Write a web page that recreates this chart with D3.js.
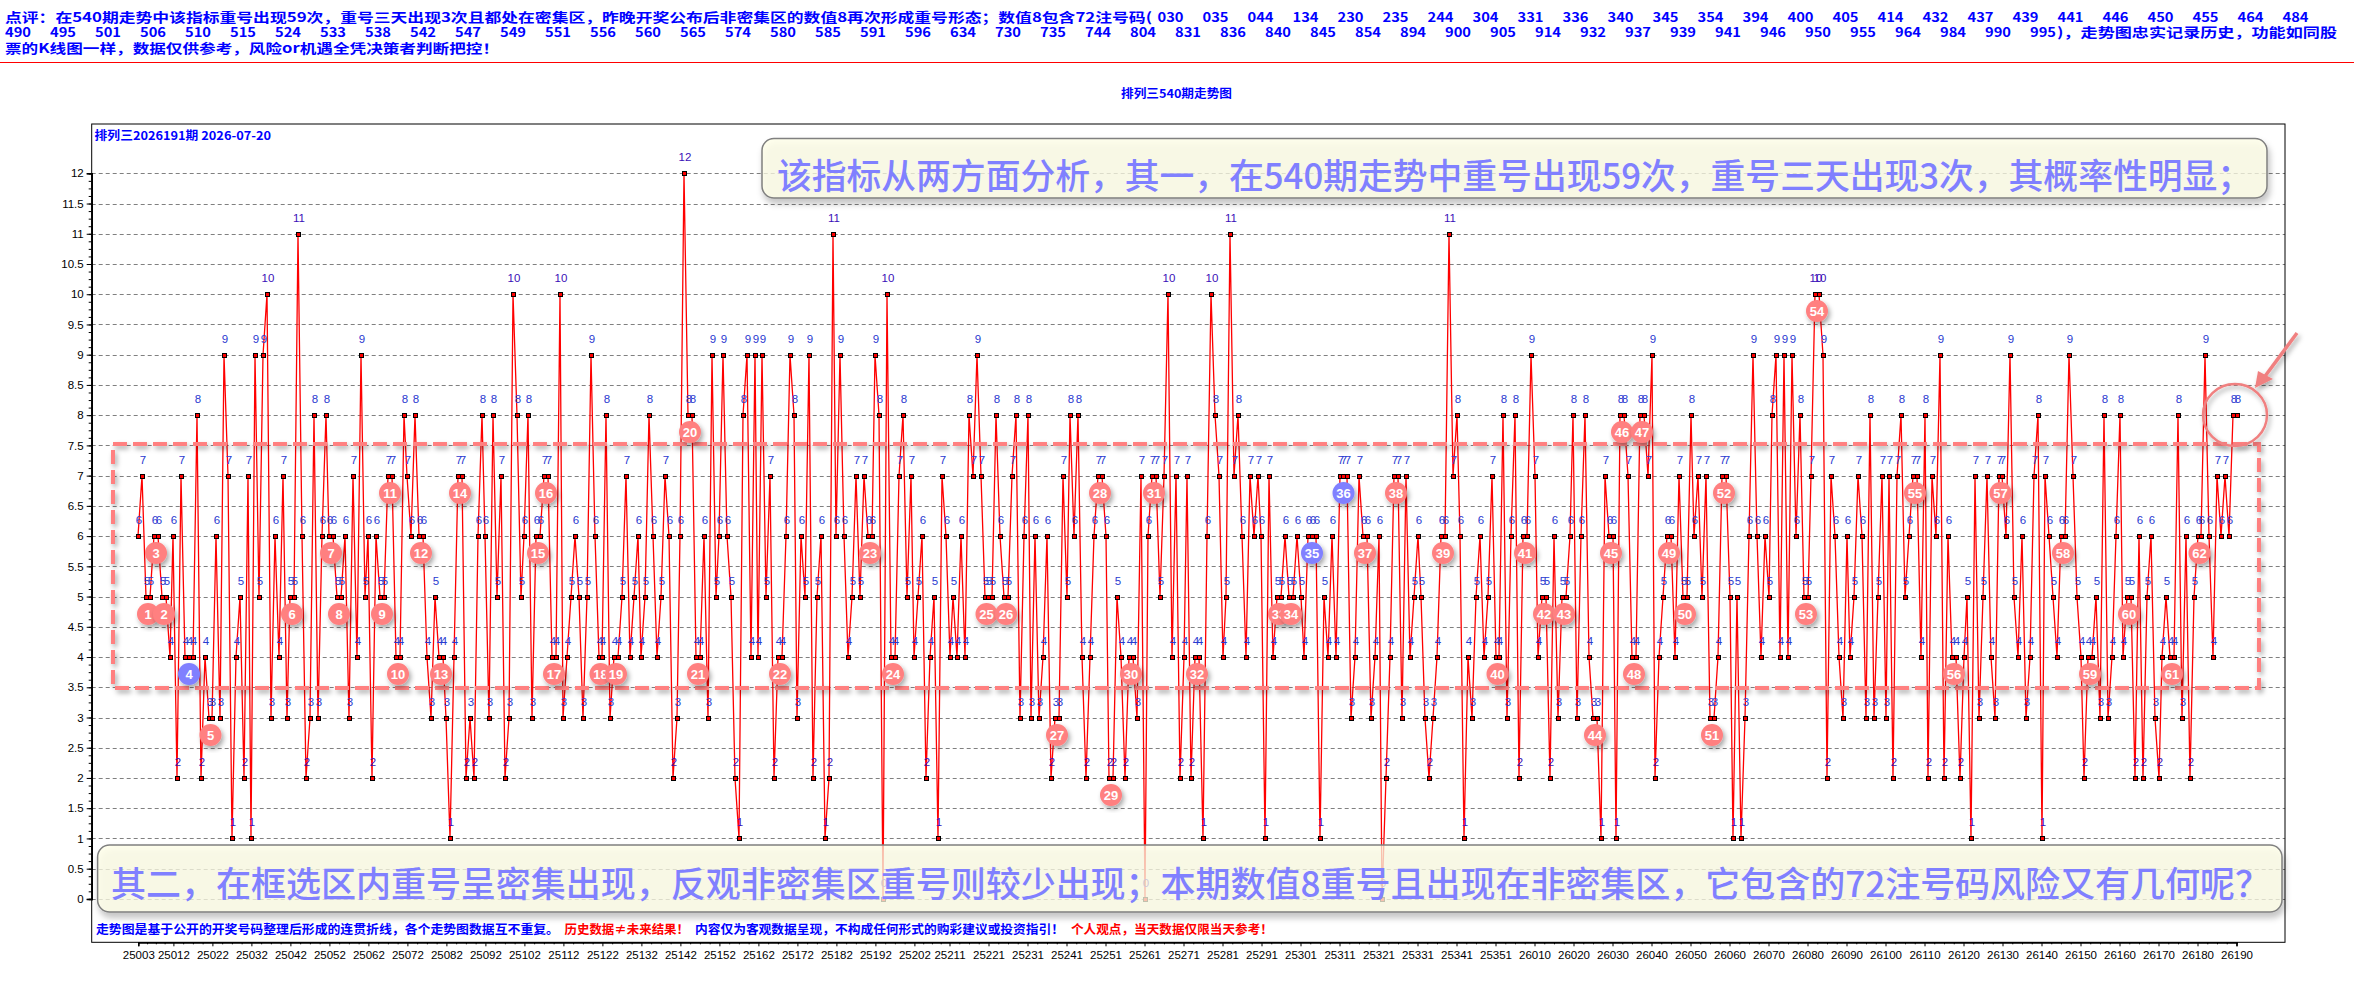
<!DOCTYPE html>
<html><head><meta charset="utf-8">
<style>
html,body{margin:0;padding:0;background:#fff;overflow:hidden}
svg{display:block}
text{font-family:"Liberation Sans",Arial,sans-serif}
.cjk{font-family:"Noto Sans CJK SC","Noto Sans",sans-serif}
</style>
<script src="https://cdn.jsdelivr.net/npm/d3@7/dist/d3.min.js"></script>
</head><body><svg id="c" width="2354" height="989"></svg>
<script>
const seriesValues = [
6,7,5,5,6,6,5,5,4,6,2,7,4,4,4,8,2,4,3,3,6,3,9,7,1,4,5,2,7,1,9,5,9,10,3,6,4,7,3,5,5,11,6,2,3,8,3,6,8,6,6,5,5,6,3,7,4,9,5,6,2,6,5,5,7,7,4,4,8,7,6,8,6,6,4,3,5,4,4,3,1,4,7,7,2,3,2,6,
8,6,3,8,5,7,2,3,10,8,5,6,8,3,6,6,7,7,4,4,10,3,4,5,6,5,3,5,9,6,4,4,8,3,4,4,5,7,4,5,6,4,5,8,6,4,5,7,6,2,3,6,12,8,8,4,4,6,3,9,5,6,9,6,5,2,1,8,9,4,9,4,9,5,7,2,4,4,6,9,8,3,6,5,9,2,5,6,1,2,11,6,9,6,4,5,7,5,7,6,6,9,8,
0,10,4,4,7,8,5,7,4,5,6,2,4,5,1,7,6,4,5,4,6,4,8,7,9,7,5,5,5,8,6,5,5,7,8,3,6,8,3,6,3,4,6,2,3,3,7,5,8,6,8,4,2,4,6,7,7,6,2,2,5,4,2,4,4,3,7,0,6,7,7,5,7,10,4,7,2,4,7,2,4,4,1,6,10,8,7,4,5,11,7,8,6,4,7,6,7,6,1,7,4,5,
5,6,5,5,6,5,4,6,6,6,1,5,4,6,4,7,7,7,3,4,7,6,6,3,4,6,0,2,4,7,7,3,7,4,5,6,5,3,2,3,4,6,6,11,7,8,6,1,4,3,5,6,4,5,7,4,4,8,3,6,8,2,6,6,9,7,4,5,5,2,6,3,5,5,6,8,3,6,8,4,3,3,1,7,6,6,1,8,8,7,4,4,8,8,7,9,2,4,5,6,6,4,7,
5,5,8,6,7,5,7,3,3,4,7,7,5,1,5,1,3,6,9,6,4,6,5,8,9,4,9,4,9,6,8,5,5,7,10,10,9,2,7,6,4,3,6,4,5,7,6,3,8,3,5,7,3,7,2,7,8,5,6,7,7,4,8,2,7,6,9,2,6,4,4,2,4,5,1,7,3,5,7,4,3,7,7,6,9,5,4,6,3,4,7,8,1,7,6,5,4,6,6,9,7,5,
4,2,4,4,5,3,8,3,4,6,8,4,5,5,2,6,2,5,6,3,2,4,5,4,4,8,3,6,2,5,6,6,9,6,4,7,6,7,6,8,8];
const xTickLabels = ["25003","25012","25022","25032","25042","25052","25062","25072","25082","25092","25102","25112","25122","25132","25142","25152","25162","25172","25182","25192","25202","25211","25221","25231","25241","25251","25261","25271","25281","25291","25301","25311","25321","25331","25341","25351","26010","26020","26030","26040","26050","26060","26070","26080","26090","26100","26110","26120","26130","26140","26150","26160","26170","26180","26190"];
const xTickIndex = [0,9,19,29,39,49,59,69,79,89,99,109,119,129,139,149,159,169,179,189,199,208,218,228,238,248,258,268,278,288,298,308,318,328,338,348,358,368,378,388,398,408,418,428,438,448,458,468,478,488,498,508,518,528,538];
const yTickValues = [0,0.5,1,1.5,2,2.5,3,3.5,4,4.5,5,5.5,6,6.5,7,7.5,8,8.5,9,9.5,10,10.5,11,11.5,12];
const repeatBadgeNumbers = [1,3,2,4,5,6,7,8,9,11,10,12,13,14,15,16,17,18,19,20,21,22,23,24,25,26,27,28,29,30,31,32,33,34,35,36,37,38,39,40,41,42,43,44,45,46,48,47,49,50,51,52,53,54,55,56,57,58,59,60,61,62];
const tripleBadgeNumbers = [4,35,36];
const comboHead = "点评：在540期走势中该指标重号出现59次，重号三天出现3次且都处在密集区，昨晚开奖公布后非密集区的数值8再次形成重号形态；数值8包含72注号码(";
const combosLine1 = ["030","035","044","134","230","235","244","304","331","336","340","345","354","394","400","405","414","432","437","439","441","446","450","455","464","484"];
const combosLine2 = ["490","495","501","506","510","515","524","533","538","542","547","549","551","556","560","565","574","580","585","591","596","634","730","735","744","804","831","836","840","845","854","894","900","905","914","932","937","939","941","946","950","955","964","984","990","995"];
const comboTail = ")，走势图忠实记录历史，功能如同股";
const headerLine3 = "票的K线图一样，数据仅供参考，风险or机遇全凭决策者判断把控！";
const chartTitle = "排列三540期走势图";
const chartSubtitle = "排列三2026191期  2026-07-20";
const noteTop = "该指标从两方面分析，其一，在540期走势中重号出现59次，重号三天出现3次，其概率性明显；";
const noteBottom = "其二，在框选区内重号呈密集出现，反观非密集区重号则较少出现；本期数值8重号且出现在非密集区，它包含的72注号码风险又有几何呢？";

const svg = d3.select("#c");
const defs = svg.append("defs");
const sh = defs.append("filter").attr("id","sh").attr("x","-20%").attr("y","-20%").attr("width","150%").attr("height","150%");
sh.append("feDropShadow").attr("dx",2).attr("dy",3).attr("stdDeviation",2.5).attr("flood-color","#000").attr("flood-opacity",0.35);
const shBox = defs.append("filter").attr("id","shBox").attr("filterUnits","userSpaceOnUse").attr("x",0).attr("y",100).attr("width",2354).attr("height",889);
shBox.append("feDropShadow").attr("dx",2).attr("dy",5).attr("stdDeviation",3).attr("flood-color","#000").attr("flood-opacity",0.3);

const plot = {l:91.7, r:2285, t:124, b:942.3};
const x = d3.scaleLinear().domain([0, seriesValues.length-1]).range([138.3, 138.3+3.9*(seriesValues.length-1)]);
const y = d3.scaleLinear().domain([0,12]).range([898.9,173.3]);
const px = i => Math.round(x(i));
const py = v => Math.round(y(v));

function fitText(sel, s, x0, x1, yc, size, color, weight){
  return sel.append("text").attr("class","cjk").attr("x",x0).attr("y",yc+size*0.36)
    .attr("font-size",size).attr("font-weight",weight||400).attr("fill",color)
    .attr("textLength",x1-x0).attr("lengthAdjust","spacingAndGlyphs").text(s);
}

// header
const hdr = svg.append("g");
const HB="#0000ff";
fitText(hdr,comboHead,5,1152,17,13,HB,700);
combosLine1.forEach((c,i)=>fitText(hdr,c,1157.5+45*i,1157.5+45*i+26,17,13,HB,700));
combosLine2.forEach((c,i)=>fitText(hdr,c,5+45*i,5+45*i+26,32,13,HB,700));
fitText(hdr,comboTail,2057,2337,32,13,HB,700);
fitText(hdr,headerLine3,5,499,48,13,HB,700);
hdr.append("line").attr("x1",0).attr("x2",2354).attr("y1",62.5).attr("y2",62.5).attr("stroke","#ff0000").attr("stroke-width",1);
fitText(svg,chartTitle,1121,1232,93.5,12,HB,700);
fitText(svg,chartSubtitle,94.6,271,136,12,HB,700);

// grid
const grid = svg.append("g");
grid.selectAll("line").data(yTickValues).join("line")
  .attr("x1",plot.l).attr("x2",plot.r).attr("y1",d=>py(d)+.5).attr("y2",d=>py(d)+.5)
  .attr("stroke","#808080").attr("stroke-width",1).attr("stroke-dasharray","4 3");

// frame
svg.append("rect").attr("x",plot.l).attr("y",plot.t).attr("width",plot.r-plot.l).attr("height",plot.b-plot.t)
  .attr("fill","none").attr("stroke","#000").attr("stroke-width",1);

// axes
const axL = d3.axisLeft(y).tickValues(yTickValues).tickFormat(d3.format("~g")).tickSize(5).tickPadding(3);
const gL = svg.append("g").attr("transform",`translate(${plot.l},0)`).call(axL);
const yMinor = d3.range(0,96+1).map(i=>i/8);
const gLm = svg.append("g").attr("transform",`translate(${plot.l},0)`).call(d3.axisLeft(y).tickValues(yMinor).tickFormat("").tickSize(3));
const axB = d3.axisBottom(x).tickValues(xTickIndex).tickFormat((d,i)=>xTickLabels[i]).tickSize(4).tickPadding(5);
const gB = svg.append("g").attr("transform",`translate(0,${plot.b})`).call(axB);
const xMinor = [];
xTickIndex.forEach((d,i)=>{ if(i<xTickIndex.length-1){const n=xTickIndex[i+1]; for(let k=1;k<4;k++) xMinor.push(d+(n-d)*k/4);} });
const gBm = svg.append("g").attr("transform",`translate(0,${plot.b})`).call(d3.axisBottom(x).tickValues(xMinor).tickFormat("").tickSize(2));
[gL,gLm,gB,gBm].forEach(g=>{g.selectAll(".domain").attr("stroke","#000").attr("stroke-width",1.5);g.selectAll("line").attr("stroke","#000");
  g.selectAll("text").attr("font-family","Liberation Sans").attr("font-size",11.5).attr("fill","#000");});

// series
const lineGen = d3.line().x((d,i)=>px(i)).y(d=>py(d));
svg.append("path").datum(seriesValues).attr("d",lineGen).attr("fill","none").attr("stroke","#ff0000").attr("stroke-width",1.3);
svg.append("g").selectAll("rect").data(seriesValues).join("rect")
  .attr("x",(d,i)=>px(i)-2+.5).attr("y",d=>py(d)-2+.5).attr("width",4).attr("height",4)
  .attr("fill","#ff0000").attr("stroke","#000").attr("stroke-width",1).attr("shape-rendering","crispEdges");
svg.append("g").selectAll("text").data(seriesValues).join("text")
  .attr("x",(d,i)=>px(i)+1).attr("y",d=>py(d)-12).attr("text-anchor","middle")
  .attr("font-size",11.5).attr("fill",d=>(d>=10||d<=2)?"#3a10b8":"#2a3ad0").text(d=>d);

// dashed selection
svg.append("rect").attr("x",113).attr("y",444).attr("width",2259-113).attr("height",688-444)
  .attr("fill","none").attr("stroke","#ff8080").attr("stroke-width",4).attr("stroke-dasharray","14 6")
  .attr("filter","url(#sh)");

// note boxes
function noteBox(x0,x1,y0,y1){
  svg.append("rect").attr("x",x0).attr("y",y0).attr("width",x1-x0).attr("height",y1-y0).attr("rx",12)
    .attr("fill","#ffffe6").attr("fill-opacity",0.72).attr("stroke","#808080").attr("stroke-width",1.5).attr("filter","url(#shBox)");
}
noteBox(762,2267,138.5,198);
noteBox(97.6,2282,845,912);
fitText(svg,noteTop,777,2252,176,35,"#8080ff",500);
fitText(svg,noteBottom,111,2270,884,35,"#8080ff",500);

// footer
[["走势图是基于公开的开奖号码整理后形成的连贯折线，各个走势图数据互不重复。",96,559,"#0000ff"],
 ["历史数据≠未来结果！",564.5,689,"#ff0000"],
 ["内容仅为客观数据呈现，不构成任何形式的购彩建议或投资指引！",695,1064,"#0000ff"],
 ["个人观点，当天数据仅限当天参考！",1071,1273,"#ff0000"]].forEach(a=>fitText(svg,a[0],a[1],a[2],929,12.5,a[3],700));

// repeat runs -> badges
const runs=[];
for(let i=0;i<seriesValues.length;){let j=i;while(j+1<seriesValues.length&&seriesValues[j+1]===seriesValues[i])j++; if(j>i)runs.push({a:i,b:j,v:seriesValues[i]}); i=j+1;}
const badgeRuns = runs.slice(0,repeatBadgeNumbers.length).map((r,i)=>({...r,n:repeatBadgeNumbers[i],triple:tripleBadgeNumbers.includes(repeatBadgeNumbers[i])}));
const bg = svg.append("g").selectAll("g").data(badgeRuns).join("g")
  .attr("transform",d=>`translate(${(px(d.a)+px(d.triple?d.b:d.a+1))/2},${py(d.v)+17})`);
bg.append("circle").attr("r",11).attr("fill",d=>d.triple?"#8080ff":"#ff8080").attr("filter","url(#sh)");
bg.append("text").attr("text-anchor","middle").attr("y",4.5).attr("font-size",13).attr("font-weight",700)
  .attr("fill","#fff").text(d=>d.n);

// circled latest repeat and arrow
const last = seriesValues.length-1;
const cg = svg.append("g").attr("filter","url(#sh)").attr("fill","none").attr("stroke","#f08080");
cg.append("ellipse").attr("cx",(px(last)+px(last-1))/2).attr("cy",py(seriesValues[last])).attr("rx",32).attr("ry",31).attr("stroke-width",2.5);
const tipX=(px(last)+px(last-1))/2+20, tipY=py(seriesValues[last])-27;
cg.append("line").attr("x1",tipX+42).attr("y1",tipY-55).attr("x2",tipX+5).attr("y2",tipY-5).attr("stroke-width",3.5);
cg.append("path").attr("d",`M${tipX},${tipY}L${tipX+3},${tipY-17}L${tipX+18},${tipY-9}Z`).attr("fill","#f08080").attr("stroke","none");
</script></body></html>
